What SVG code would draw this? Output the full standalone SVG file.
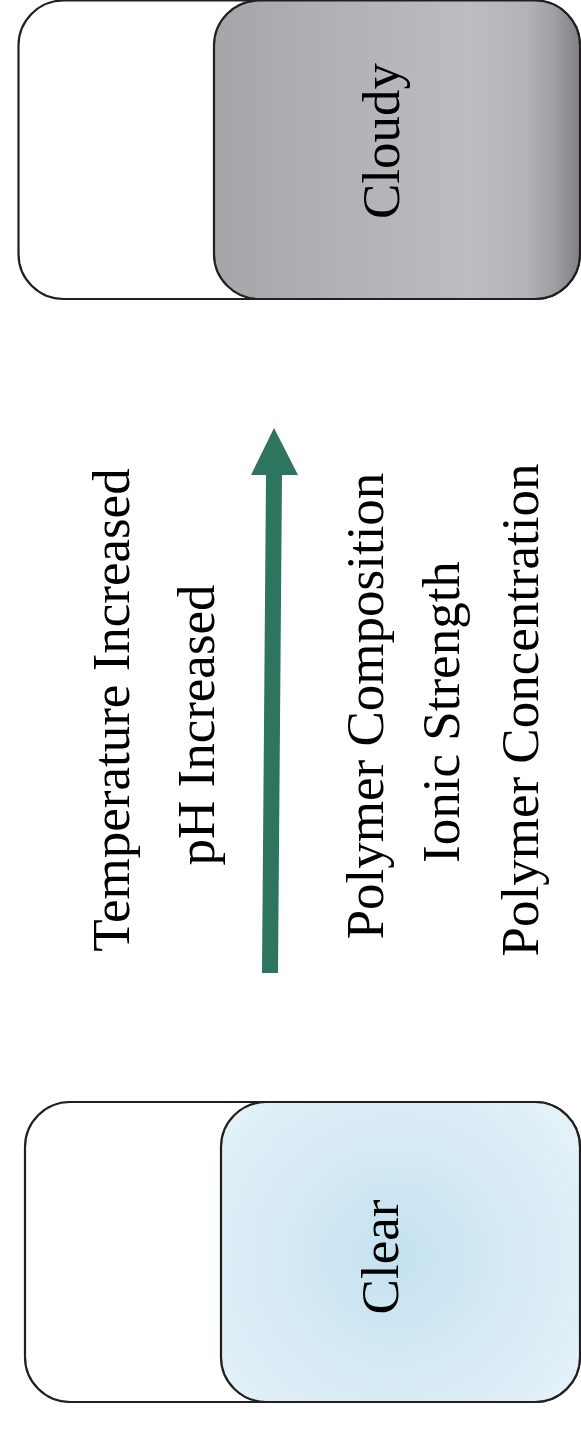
<svg xmlns="http://www.w3.org/2000/svg" width="581" height="1430" viewBox="0 0 581 1430">
  <style>
    .box { stroke: #231f20; stroke-width: 2.2; }
    .lbl { font-family: "Liberation Serif", "Times New Roman", serif; font-size: 53px; fill: #000; text-anchor: middle; }
  </style>
  <defs>
    <linearGradient id="gray" x1="214" y1="0" x2="581" y2="0" gradientUnits="userSpaceOnUse">
      <stop offset="0" stop-color="#a5a6a9"/>
      <stop offset="0.35" stop-color="#b1b2b5"/>
      <stop offset="0.7" stop-color="#bcbdc0"/>
      <stop offset="0.85" stop-color="#b3b4b7"/>
      <stop offset="0.93" stop-color="#9d9ea1"/>
      <stop offset="1" stop-color="#7e7f83"/>
    </linearGradient>
    <radialGradient id="blue" cx="395" cy="1257" r="230" gradientUnits="userSpaceOnUse">
      <stop offset="0" stop-color="#c4e1f0"/>
      <stop offset="1" stop-color="#e6f2f9"/>
    </radialGradient>
  </defs>
  <rect width="581" height="1430" fill="#fff"/>

  <g id="cloudy">
    <rect class="box" x="18.5" y="0.5" width="561.5" height="298.5" rx="45" ry="45" fill="#fff"/>
    <rect class="box" x="214" y="0.5" width="366" height="298.5" rx="45" ry="45" fill="url(#gray)"/>
    <text class="lbl" transform="translate(399,141) rotate(-90)">Cloudy</text>
  </g>

  <g id="clear">
    <rect class="box" x="25" y="1102" width="555" height="300" rx="45" ry="45" fill="#fff"/>
    <rect class="box" x="221" y="1102" width="359" height="300" rx="45" ry="45" fill="url(#blue)"/>
    <text class="lbl" transform="translate(398,1257) rotate(-90)">Clear</text>
  </g>

  <g id="connectors">
    <polygon points="262,973 278,973 282,475 298,475 274,428 251,475 266,475" fill="#2e7560"/>
  </g>

  <g id="labels">
    <text class="lbl" transform="translate(129,710) rotate(-90)">Temperature Increased</text>
    <text class="lbl" transform="translate(214,725) rotate(-90)">pH Increased</text>
    <text class="lbl" transform="translate(383,706) rotate(-90)">Polymer Composition</text>
    <text class="lbl" transform="translate(459,712) rotate(-90)">Ionic Strength</text>
    <text class="lbl" transform="translate(538,710) rotate(-90)">Polymer Concentration</text>
  </g>
</svg>
